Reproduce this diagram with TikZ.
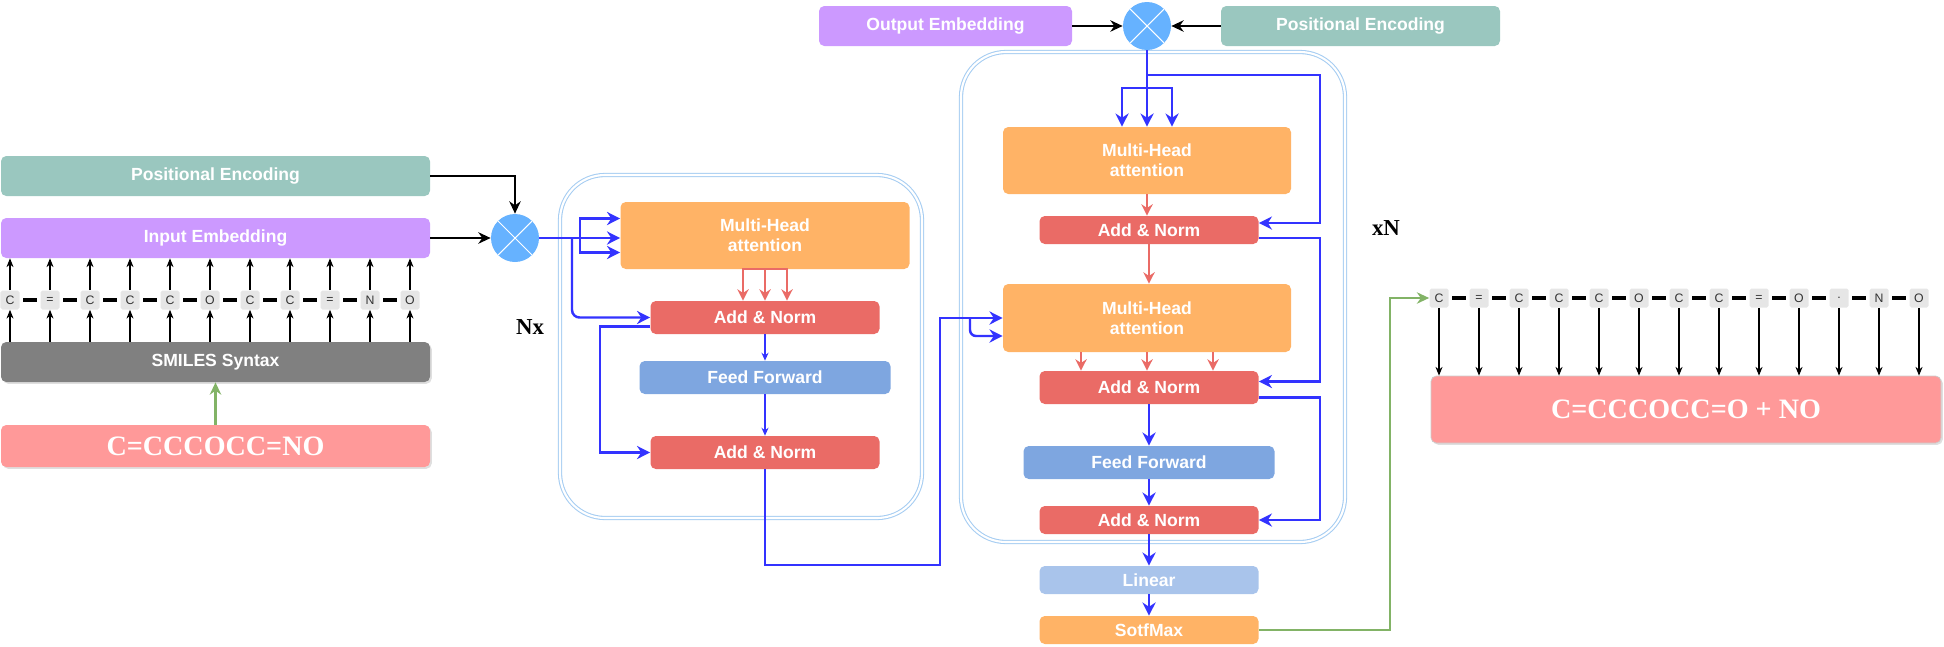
\documentclass[tikz,border=0pt]{standalone}
\usepackage{fontspec}
\setmainfont{Liberation Sans}
\newfontfamily\molfont{Liberation Serif}
\usetikzlibrary{arrows.meta,calc,shadows}

\definecolor{peTeal}{HTML}{9AC7BF}
\definecolor{embPurple}{HTML}{CC99FF}
\definecolor{smiGray}{HTML}{808080}
\definecolor{molPink}{HTML}{FF9999}
\definecolor{attOrange}{HTML}{FFB366}
\definecolor{normRed}{HTML}{EA6B66}
\definecolor{ffBlue}{HTML}{7EA6E0}
\definecolor{linBlue}{HTML}{A9C4EB}
\definecolor{mixBlue}{HTML}{66B2FF}
\definecolor{flowBlue}{HTML}{3333FF}
\definecolor{okGreen}{HTML}{82B366}
\definecolor{tokGray}{HTML}{E6E6E6}
\definecolor{frameBlue}{HTML}{A6CDF2}

\tikzset{
    layer/.style={rounded corners=3pt, text=white, inner sep=0pt, align=center,
        font=\fontsize{10}{11.5}\selectfont\bfseries},
    sz/.style 2 args={minimum width=#1*0.02cm, minimum height=#2*0.02cm},
    molbox/.style={layer, fill=molPink, font=\fontsize{16}{16}\selectfont\molfont\bfseries,
        drop shadow={shadow xshift=1pt, shadow yshift=-1pt, opacity=0.25}},
    tok/.style={fill=tokGray, rounded corners=1pt, inner sep=0pt, minimum size=19*0.02cm,
        text=black!80, font=\fontsize{7}{7}\selectfont},
    mix/.style={circle, fill=mixBlue, inner sep=0pt, minimum size=48*0.02cm,
        path picture={\draw[white, line width=0.6pt]
            (path picture bounding box.north west) -- (path picture bounding box.south east)
            (path picture bounding box.north east) -- (path picture bounding box.south west);}},
    frame/.style={draw=frameBlue, double=white, double distance=1.2pt, line width=0.6pt,
        rounded corners=0.9cm},
    flow/.style={draw=flowBlue, line width=1.4pt, -{Stealth[length=7.5pt,width=7.5pt]}},
    thinflow/.style={draw=flowBlue, line width=0.6pt, -{Stealth[length=4.5pt,width=4pt]}},
    redflow/.style={draw=normRed, line width=1pt, -{Stealth[length=6.5pt,width=6.5pt]}},
    link/.style={draw=black, line width=1.2pt, -{Stealth[length=7pt,width=6.5pt]}},
    tokarrow/.style={draw=black, line width=0.6pt, -{Stealth[length=5pt,width=4pt]}},
    bond/.style={line width=2pt, shorten <=2pt, shorten >=2pt},
    gflow/.style={draw=okGreen, line width=1.3pt, -{Stealth[length=7pt,width=6.5pt]}},
    label/.style={font=\fontsize{13}{13}\selectfont\molfont\bfseries}
}

\begin{document}
\begin{tikzpicture}[x=0.02cm, y=-0.02cm]
    \useasboundingbox (0,0) rectangle (1944,646);

    % input side
    \node[layer, sz={429}{40}, fill=peTeal] (peL) at (215.5,176) {Positional Encoding};
    \node[layer, sz={429}{40}, fill=embPurple] (ieL) at (215.5,238) {Input Embedding};
    \node[layer, sz={429}{40}, fill=smiGray,
        drop shadow={shadow xshift=1pt, shadow yshift=-1pt, opacity=0.25}] (smi) at (215.5,362) {SMILES Syntax};
    \node[molbox, sz={429}{42}] (src) at (215.5,446) {C=CCCOCC=NO};
    \foreach \t [count=\i from 0] in {C,=,C,C,C,O,C,C,=,N,O}{
        \node[tok] (a\i) at ({10+40*\i},300) {\t};
        \draw[tokarrow] (a\i |- smi.north) -- (a\i.south);
        \draw[tokarrow] (a\i.north) -- (a\i |- ieL.south);
    }
    \foreach \i in {0,...,9}{
        \pgfmathtruncatemacro\j{\i+1}
        \draw[bond] (a\i) -- (a\j);
    }
    \draw[gflow] (src) -- (smi);
    \node[mix] (mixE) at (515,238) {};
    \draw[link] (peL) -| (mixE);
    \draw[link] (ieL) -- (mixE);

    % encoder
    \draw[frame] (560,175) rectangle (922,518);
    \node[layer, sz={289}{67}, fill=attOrange] (mhaE) at (765,235.5) {Multi-Head\\attention};
    \node[layer, sz={229}{33}, fill=normRed] (anE1) at (765,317.5) {Add \& Norm};
    \node[layer, sz={251}{33}, fill=ffBlue] (ffE) at (765,377.5) {Feed Forward};
    \node[layer, sz={229}{33}, fill=normRed] (anE2) at (765,452.5) {Add \& Norm};
    \node[label] (nx) at (530,327) {Nx};
    \coordinate (sE) at (580,238);
    \coordinate (rE) at (572,238);
    \draw[flow] (mixE.east) -- (mixE.east -| mhaE.west);
    \draw[flow] (sE) |- ($(mhaE.west)+(0,-17)$);
    \draw[flow] (sE) |- ($(mhaE.west)+(0,17)$);
    \draw[flow, rounded corners=0.15cm] (rE) |- (anE1.west);
    \draw[flow] ($(anE1.west)+(0,9)$) -- ++(-50,0) |- (anE2.west);
    \foreach \d in {-22,0,22}
        \draw[redflow] (mhaE.south) -| ($(anE1.north)+(\d,0)$);
    \draw[thinflow] (anE1) -- (ffE);
    \draw[thinflow] (ffE) -- (anE2);

    % decoder
    \draw[frame] (961,52) rectangle (1345,542);
    \node[layer, sz={253}{40}, fill=embPurple] (oe) at (945.5,26) {Output Embedding};
    \node[layer, sz={279}{40}, fill=peTeal] (peR) at (1360.5,26) {Positional Encoding};
    \node[mix] (mixD) at (1147,26) {};
    \draw[link] (oe) -- (mixD);
    \draw[link] (peR) -- (mixD);
    \node[layer, sz={288}{67}, fill=attOrange] (mhaD1) at (1147,160.5) {Multi-Head\\attention};
    \node[layer, sz={219}{28}, fill=normRed] (anD1) at (1149,230) {Add \& Norm};
    \node[layer, sz={288}{68}, fill=attOrange] (mhaD2) at (1147,318) {Multi-Head\\attention};
    \node[layer, sz={219}{33}, fill=normRed] (anD2) at (1149,387.5) {Add \& Norm};
    \node[layer, sz={251}{33}, fill=ffBlue] (ffD) at (1149,462.5) {Feed Forward};
    \node[layer, sz={219}{28}, fill=normRed] (anD3) at (1149,520) {Add \& Norm};
    \node[layer, sz={219}{28}, fill=linBlue] (lin) at (1149,580) {Linear};
    \node[layer, sz={219}{28}, fill=attOrange] (smx) at (1149,630) {SotfMax};
    \node[label] (xn) at (1386,228) {xN};
    \coordinate (sD1) at (1147,88);
    \coordinate (rD) at (1147,75);
    \coordinate (rail) at (1320,0);
    \draw[flow] (mixD) -- (mhaD1);
    \draw[flow] (sD1) -| ($(mhaD1.north)+(-25,0)$);
    \draw[flow] (sD1) -| ($(mhaD1.north)+(25,0)$);
    \draw[flow] (rD) -- (rD -| rail) |- ($(anD1.east)+(0,-7)$);
    \draw[flow] ($(anD1.east)+(0,8)$) -- ++(61,0) |- ($(anD2.east)+(0,-6)$);
    \draw[flow] ($(anD2.east)+(0,10)$) -- ++(61,0) |- (anD3.east);
    \draw[redflow] (mhaD1) -- (mhaD1 |- anD1.north);
    \draw[redflow] (anD1) -- (anD1 |- mhaD2.north);
    \foreach \d in {-66,0,66}
        \draw[redflow] ($(mhaD2.south)+(\d,0)$) -- ($(mhaD2.south |- anD2.north)+(\d,0)$);
    \draw[flow] (anD2) -- (ffD);
    \draw[flow] (ffD) -- (anD3);
    \draw[flow] (anD3) -- (lin);
    \draw[flow] (lin) -- (smx);

    % encoder to decoder
    \coordinate (eOut) at (940,565);
    \coordinate (sD2) at (970,318);
    \draw[flow] (anE2.south) |- (eOut) |- (mhaD2.west);
    \draw[flow, rounded corners=0.12cm] (sD2) |- ($(mhaD2.west)+(0,18)$);

    % output side
    \node[molbox, sz={510}{67}, draw=black!20] (tgt) at (1686,409.5) {C=CCCOCC=O + NO};
    \foreach \t [count=\i from 0] in {C,=,C,C,C,O,C,C,=,O,.,N,O}{
        \node[tok] (o\i) at ({1439+40*\i},298) {\t};
        \draw[tokarrow] (o\i.south) -- (o\i |- tgt.north);
    }
    \foreach \i in {0,...,11}{
        \pgfmathtruncatemacro\j{\i+1}
        \draw[bond] (o\i) -- (o\j);
    }
    \coordinate (gK) at (1390,298);
    \draw[gflow] (smx) -| (gK) -- (o0);
\end{tikzpicture}
\end{document}
